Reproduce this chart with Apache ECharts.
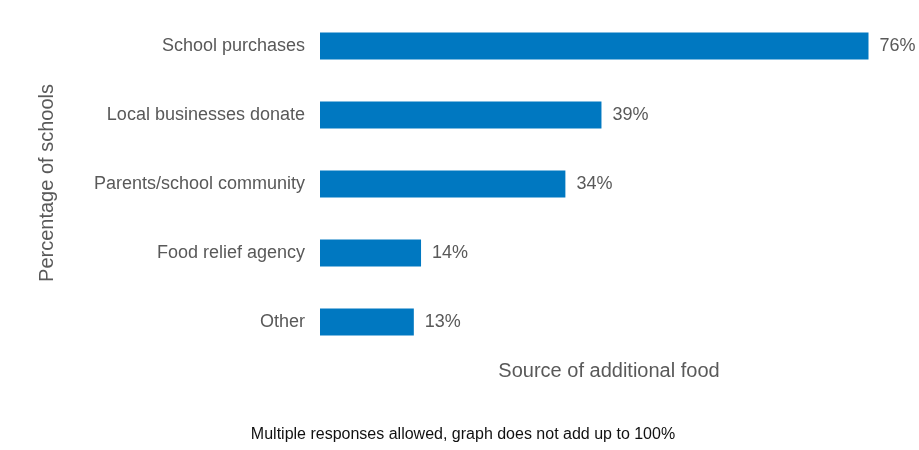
<!DOCTYPE html>
<html><head><meta charset="utf-8">
<script src="https://cdn.jsdelivr.net/npm/echarts@6/dist/echarts.min.js"></script>
<style>html,body{margin:0;padding:0;background:#fff}#c{width:919px;height:450px}</style>
</head><body><div id="c"></div>
<script>
const categories = ["School purchases","Local businesses donate","Parents/school community","Food relief agency","Other"];
const values = [76,39,34,14,13];
const xTitle = "Source of additional food";
const yTitle = "Percentage of schools";
const footnote = "Multiple responses allowed, graph does not add up to 100%";

const chart = echarts.init(document.getElementById('c'), null, {renderer:'canvas'});
const font = '"Liberation Sans", Arial, sans-serif';
chart.setOption({
  animation:false,
  grid:{left:320, top:11.5, width:548.5, height:345, containLabel:false},
  xAxis:{type:'value', min:0, max:76, show:false},
  yAxis:{type:'category', data:categories, inverse:true,
    axisLine:{show:false}, axisTick:{show:false}, splitLine:{show:false},
    axisLabel:{color:'#595959', fontSize:18, fontFamily:font, margin:15}},
  series:[{type:'bar', data:values, barWidth:27, itemStyle:{color:'#0078c1'},
    label:{show:true, position:'right', distance:11, formatter:'{c}%', color:'#595959', fontSize:18, fontFamily:font}}],
  graphic:[
    {type:'text', x:609, y:371, style:{text:xTitle, fontSize:20, fontFamily:font, fill:'#595959', align:'center', verticalAlign:'middle'}},
    {type:'text', x:47, y:183, rotation:Math.PI/2, style:{text:yTitle, fontSize:20, fontFamily:font, fill:'#595959', align:'center', verticalAlign:'middle'}},
    {type:'text', x:463, y:435, style:{text:footnote, fontSize:16, fontFamily:font, fill:'#111', align:'center', verticalAlign:'middle'}}
  ]
});
</script></body></html>
